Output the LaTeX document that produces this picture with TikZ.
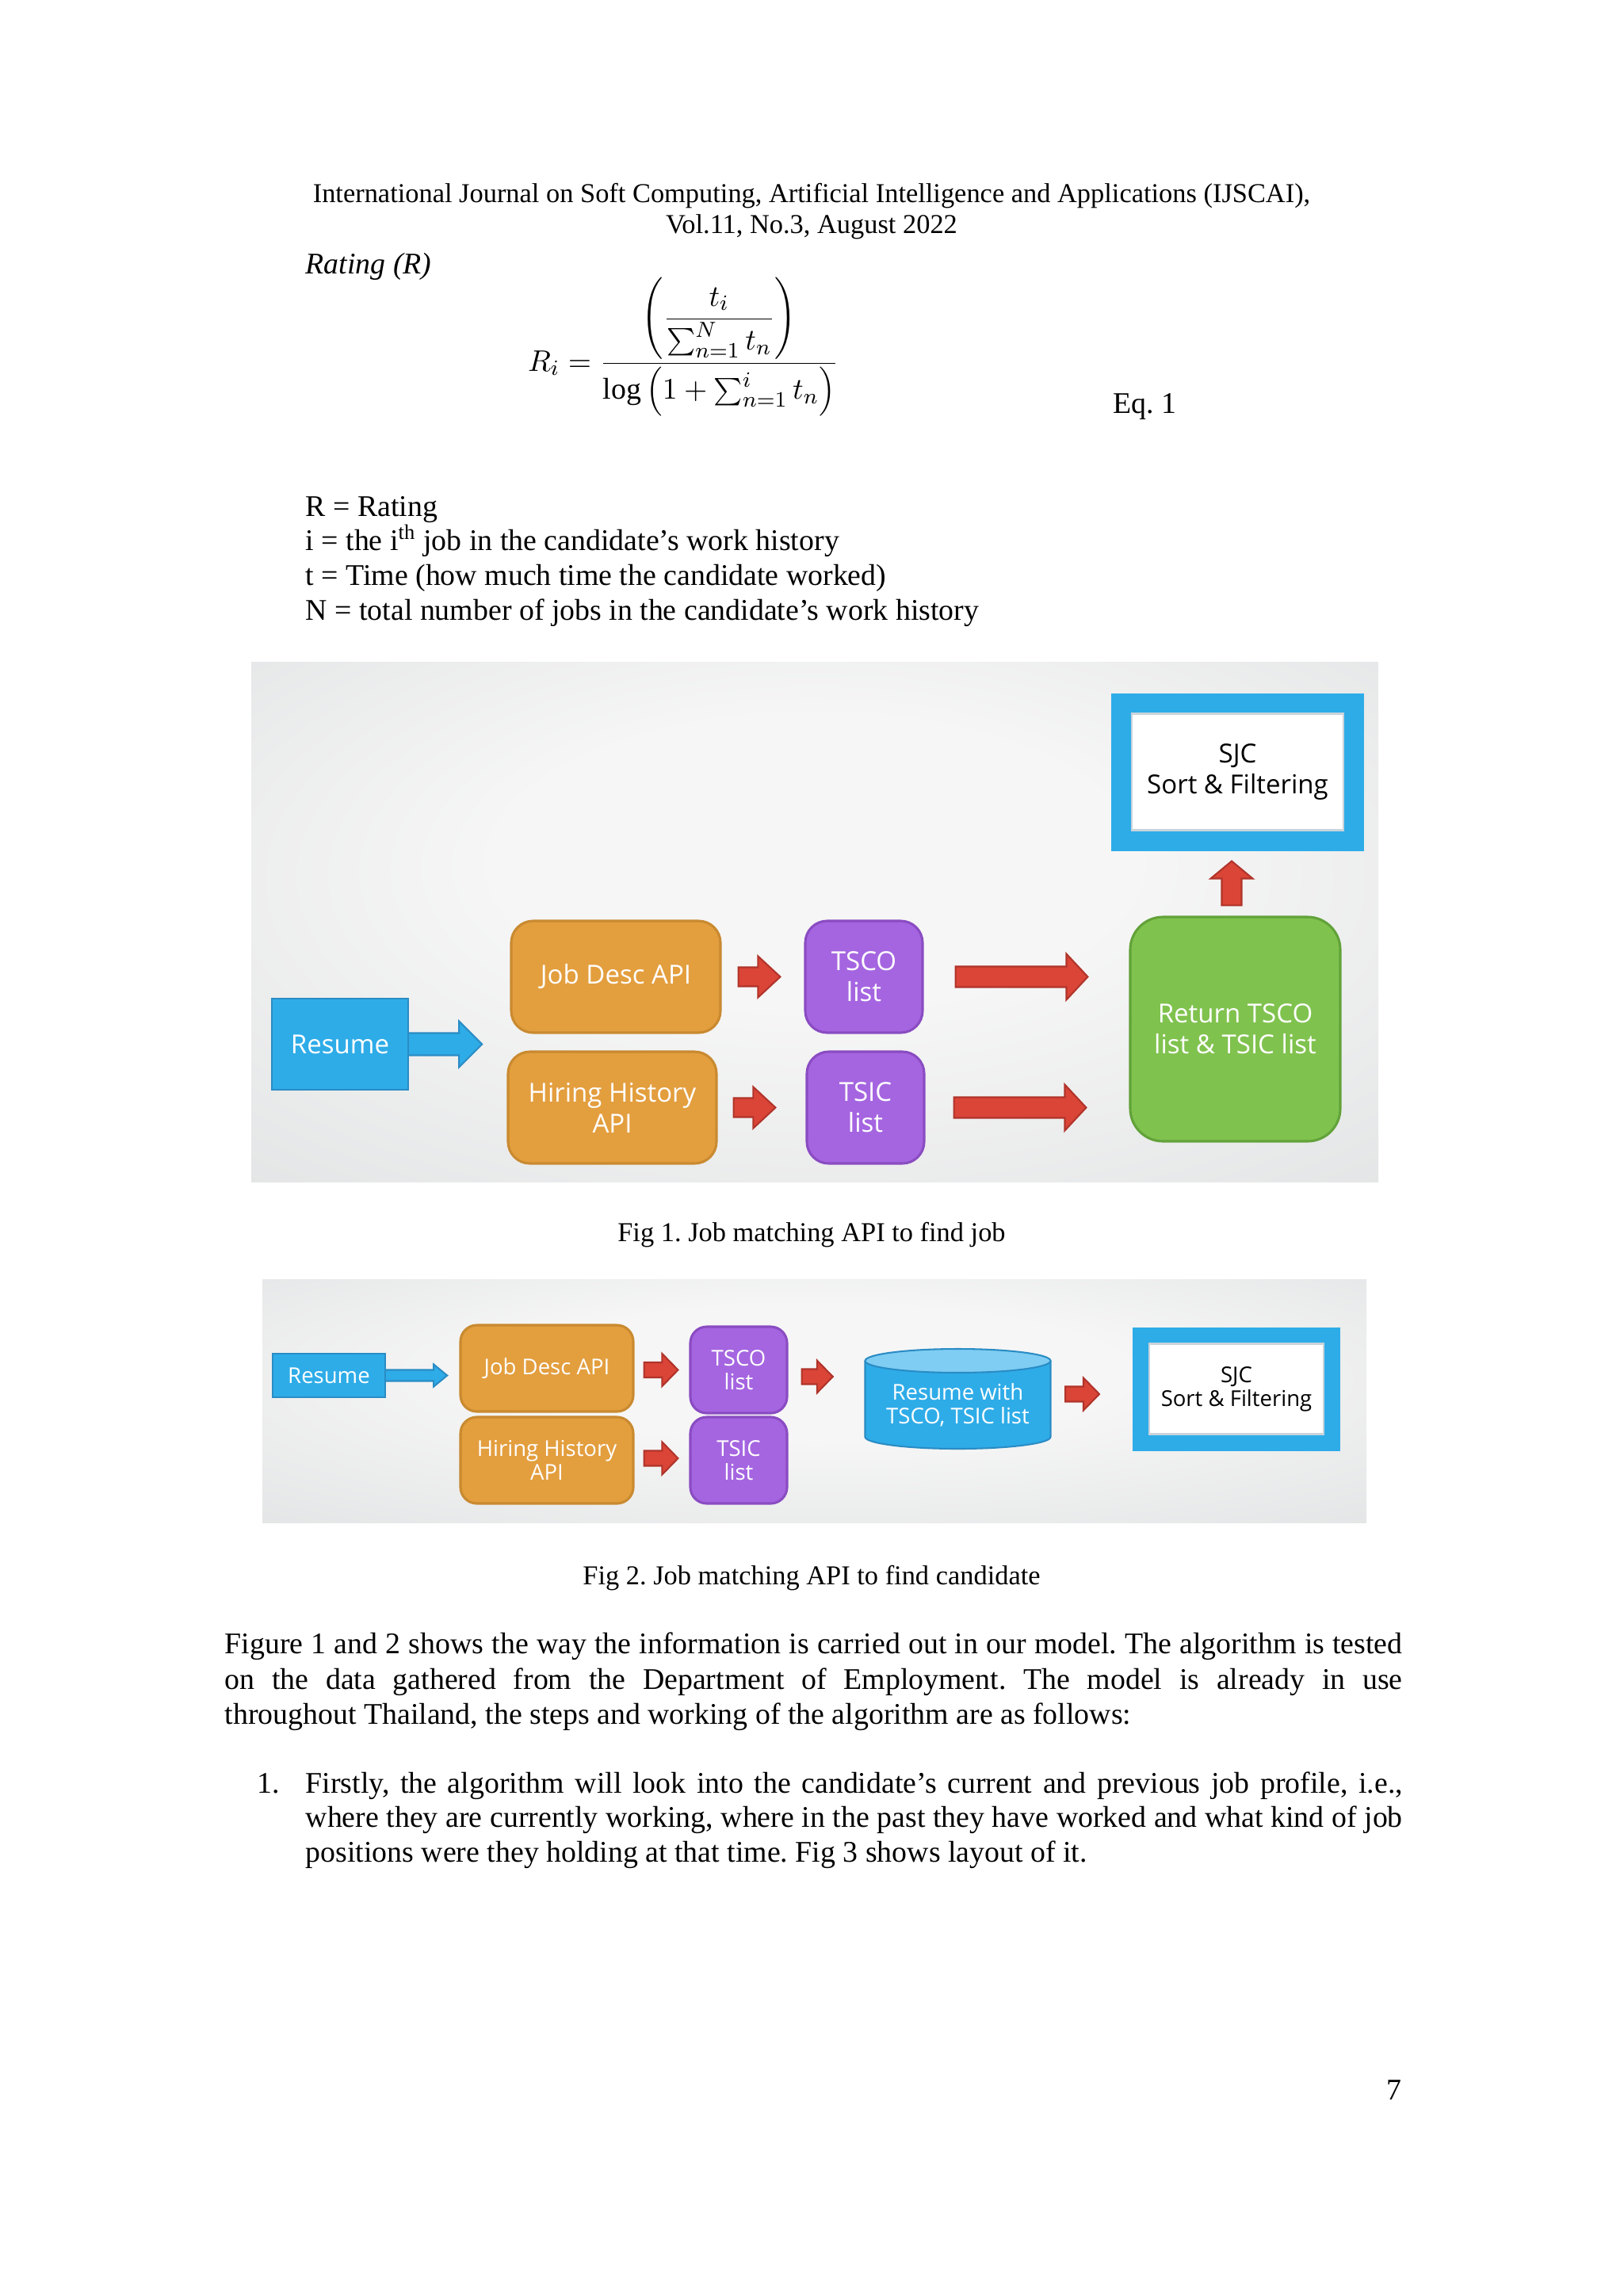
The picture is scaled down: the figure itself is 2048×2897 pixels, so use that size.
\documentclass[tikz,border=0pt]{standalone}
\usepackage{fontspec}
\setmainfont{Liberation Serif}
\newfontfamily\figfont{Open Sans}
\usetikzlibrary{calc}
\definecolor{bgin}{HTML}{F6F6F6}
\definecolor{bgout}{HTML}{DADCDD}
\definecolor{bluF}{HTML}{2EACE8}
\definecolor{bluD}{HTML}{2A8CC4}
\definecolor{oraF}{HTML}{E39E3E}
\definecolor{oraD}{HTML}{C98A30}
\definecolor{purF}{HTML}{A565E0}
\definecolor{purD}{HTML}{8A4CC2}
\definecolor{grnF}{HTML}{80C24E}
\definecolor{grnD}{HTML}{62A23A}
\definecolor{redF}{HTML}{DA4537}
\definecolor{redD}{HTML}{B0342A}
\definecolor{cylTop}{HTML}{7FCDF3}
\definecolor{sjcIn}{HTML}{C9D3DB}
\pgfdeclareradialshading{bgshade}{\pgfpoint{0bp}{8bp}}{color(0bp)=(bgin); color(14bp)=(bgin); color(50bp)=(bgout)}
\pgfdeclarelayer{bglayer}
\pgfdeclarelayer{behind}
\pgfsetlayers{bglayer,behind,main}
\newcommand\pxu{0.29066pt}
\newcommand\hblock[6]{%
 \path[#1] ($#2+(0,-#4)$) -- ($#3+(-#6,-#4)$) -- ($#3+(-#6,-#5)$) -- #3 -- ($#3+(-#6,#5)$) -- ($#3+(-#6,#4)$) -- ($#2+(0,#4)$) -- cycle;}
\newcommand\vblock[6]{%
 \path[#1] ($#2+(-#4,0)$) -- ($#3+(-#4,#6)$) -- ($#3+(-#5,#6)$) -- #3 -- ($#3+(#5,#6)$) -- ($#3+(#4,#6)$) -- ($#2+(#4,0)$) -- cycle;}
\tikzset{
 figbase/.style={inner sep=0pt, align=center, text=white, font=\figfont\fontsize{9.6}{11.3}\selectfont},
 smallfig/.style={font=\figfont\fontsize{8}{8.7}\selectfont},
 bluebox/.style={figbase, fill=bluF, draw=bluD, line width=0.7pt},
 orabox/.style={figbase, fill=oraF, draw=oraD, line width=0.9pt, rounded corners=8pt},
 purbox/.style={figbase, fill=purF, draw=purD, line width=0.9pt, rounded corners=8pt},
 grnbox/.style={figbase, fill=grnF, draw=grnD, line width=0.9pt, rounded corners=12pt},
 sjcbox/.style={figbase, text=black, fill=white, draw=bluF, outer sep=0pt},
 sjcinner/.style={draw=sjcIn, line width=0.8pt},
 redarr/.style={fill=redF, draw=redD, line width=0.6pt},
 bluarr/.style={fill=bluF, draw=bluD, line width=0.6pt},
 txt/.style={inner sep=0pt, font=\frenchspacing\fontsize{11}{12.8}\selectfont},
 captxt/.style={inner sep=0pt, font=\frenchspacing\fontsize{10}{11.5}\selectfont},
 hdr/.style={inner sep=0pt, font=\fontsize{10}{11.3}\selectfont},
}
\begin{document}
\begin{tikzpicture}[x=0.29066pt,y=-0.29066pt]
\useasboundingbox (0,0) rectangle (2048,2897);
\begin{pgfonlayer}{bglayer}
\fill[white] (0,0) rectangle (2048,2897);
\shade[shading=bgshade] (317,835) rectangle (1739,1491);
\shade[shading=bgshade] (331,1614) rectangle (1724,1921);
\end{pgfonlayer}

% header
\node[hdr, anchor=base] (h1) at (1024,255) {International Journal on Soft Computing, Artificial Intelligence and Applications (IJSCAI),};
\node[hdr, anchor=base] (h2) at (1024,294) {Vol.11, No.3, August 2022};
\node[txt, anchor=base west] (rt) at (385,345) {\itshape Rating (R)};

% equation
\node[inner sep=0pt] (eq) at (862,438) {\fontsize{11}{13}\selectfont$\displaystyle R_i=\frac{\left({\displaystyle\frac{t_i}{\sum\nolimits_{n=1}^{N}t_n}}\right)}{\log\left(1+\sum\nolimits_{n=1}^{i}t_n\right)}$};
\node[txt, anchor=base west] (eqn) at (1404,521) {Eq. 1};

% definitions
\node[txt, anchor=base west] (d1) at (385,651) {R = Rating};
\node[txt, anchor=base west] (d2) at (385,694) {i = the i\textsuperscript{th} job in the candidate’s work history};
\node[txt, anchor=base west] (d3) at (385,738) {t = Time (how much time the candidate worked)};
\node[txt, anchor=base west] (d4) at (385,782) {N = total number of jobs in the candidate’s work history};

% ---------------- Figure 1 ----------------
\node[bluebox, minimum width=172*\pxu, minimum height=115*\pxu] (res1) at (429,1317.5) {Resume};
\node[orabox, minimum width=264*\pxu, minimum height=141*\pxu] (jd1) at (777,1232.5) {Job Desc API};
\node[orabox, minimum width=263*\pxu, minimum height=141*\pxu] (hh1) at (772.5,1397.5) {Hiring History\\API};
\node[purbox, minimum width=148*\pxu, minimum height=141*\pxu] (tsco1) at (1090,1232.5) {TSCO\\list};
\node[purbox, minimum width=148*\pxu, minimum height=141*\pxu] (tsic1) at (1092,1397.5) {TSIC\\list};
\node[grnbox, minimum width=265*\pxu, minimum height=283*\pxu] (grn1) at (1558.5,1298.5) {Return TSCO\\list \& TSIC list};
\node[sjcbox, line width=26*\pxu, minimum width=293*\pxu, minimum height=173*\pxu] (sjc1) at (1561.5,974) {SJC\\Sort \& Filtering};
\draw[sjcinner] ($(sjc1.north west)+(13,13)$) rectangle ($(sjc1.south east)+(-13,-13)$);

\coordinate (b1s) at ($(res1.east)+(-10,0)$);
\coordinate (b1e) at ($(res1.east)+(92,0)$);
\begin{pgfonlayer}{behind}
\hblock{bluarr}{(b1s)}{(b1e)}{14}{29}{29}
\end{pgfonlayer}

\coordinate (r1s) at ($(jd1.east)+(21,0)$);
\coordinate (r1e) at ($(jd1.east -| tsco1.west)+(-30,0)$);
\hblock{redarr}{(r1s)}{(r1e)}{12}{26}{28}
\coordinate (r2s) at ($(hh1.east)+(20,0)$);
\coordinate (r2e) at ($(hh1.east -| tsic1.west)+(-38,0)$);
\hblock{redarr}{(r2s)}{(r2e)}{12}{26}{28}
\coordinate (r3s) at ($(tsco1.east)+(40,0)$);
\coordinate (r3e) at ($(tsco1.east -| grn1.west)+(-52,0)$);
\hblock{redarr}{(r3s)}{(r3e)}{13}{29}{27}
\coordinate (r4s) at ($(tsic1.east)+(36,0)$);
\coordinate (r4e) at ($(tsic1.east -| grn1.west)+(-54,0)$);
\hblock{redarr}{(r4s)}{(r4e)}{13}{29}{27}
\coordinate (u1s) at ($(grn1.north)+(-4.5,-13)$);
\coordinate (u1e) at ($(sjc1.south)+(-7.5,26)$);
\vblock{redarr}{(u1s)}{(u1e)}{12.5}{26.5}{22}

\node[captxt, anchor=base] (cap1) at (1024,1566) {Fig 1. Job matching API to find job};

% ---------------- Figure 2 ----------------
\node[bluebox, smallfig, minimum width=142*\pxu, minimum height=55*\pxu] (res2) at (415,1735.5) {Resume};
\node[orabox, smallfig, rounded corners=6pt, minimum width=218*\pxu, minimum height=109*\pxu] (jd2) at (690,1726.5) {Job Desc API};
\node[orabox, smallfig, rounded corners=6pt, minimum width=218*\pxu, minimum height=109*\pxu] (hh2) at (690,1842.5) {Hiring History\\API};
\node[purbox, smallfig, rounded corners=6pt, minimum width=122*\pxu, minimum height=109*\pxu] (tsco2) at (932,1728.5) {TSCO\\list};
\node[purbox, smallfig, rounded corners=6pt, minimum width=122*\pxu, minimum height=109*\pxu] (tsic2) at (932,1842.5) {TSIC\\list};
% cylinder
\fill[bluF] (1091.5,1717) -- (1091.5,1813) arc[start angle=180, end angle=0, x radius=117, y radius=15] -- (1325.5,1717) -- cycle;
\draw[bluD, line width=0.6pt] (1091.5,1717) -- (1091.5,1813) arc[start angle=180, end angle=0, x radius=117, y radius=15] -- (1325.5,1717);
\draw[fill=cylTop, draw=bluD, line width=0.6pt] (1208.5,1717) ellipse [x radius=117, y radius=15];
\node[figbase, smallfig, minimum width=234*\pxu, minimum height=60*\pxu] (cyl) at (1208.5,1773) {Resume with\\TSCO, TSIC list};
\node[sjcbox, smallfig, text=black, line width=21*\pxu, minimum width=241*\pxu, minimum height=135*\pxu] (sjc2) at (1560,1752.5) {SJC\\Sort \& Filtering};
\draw[sjcinner] ($(sjc2.north west)+(10.5,10.5)$) rectangle ($(sjc2.south east)+(-10.5,-10.5)$);

\coordinate (b2s) at ($(res2.east)+(-8,0)$);
\coordinate (b2e) at ($(res2.east)+(77,0)$);
\begin{pgfonlayer}{behind}
\hblock{bluarr}{(b2s)}{(b2e)}{7}{14}{17}
\end{pgfonlayer}
\coordinate (s1) at ($(jd2.east |- tsco2.west)+(12,0)$);
\coordinate (e1) at ($(tsco2.west)+(-14,0)$);
\hblock{redarr}{(s1)}{(e1)}{9.5}{20.5}{20}
\coordinate (s2) at ($(hh2.east)+(12,-2.5)$);
\coordinate (e2) at ($(tsic2.west)+(-14,-2.5)$);
\hblock{redarr}{(s2)}{(e2)}{9.5}{20.5}{20}
\coordinate (s3) at ($(tsco2.east)+(17,8.5)$);
\coordinate (e3) at ($(tsco2.east -| cyl.west)+(-40,8.5)$);
\hblock{redarr}{(s3)}{(e3)}{9.5}{20.5}{20}
\coordinate (s4) at ($(cyl.east)+(18,-14)$);
\coordinate (e4) at ($(sjc2.west)+(-52.5,6.5)$);
\hblock{redarr}{(s4)}{(e4)}{9.5}{20.5}{20}

\node[captxt, anchor=base] (cap2) at (1024,1999) {Fig 2. Job matching API to find candidate};

% ---------------- Body text ----------------
\node[txt, anchor=base west] (p1) at (283,2086) {\hbox to 431.9pt{Figure 1 and 2 shows the way the information is carried out in our model. The algorithm is tested}};
\node[txt, anchor=base west] (p2) at (283,2131) {\hbox to 431.9pt{on the data gathered from the Department of Employment. The model is already in use}};
\node[txt, anchor=base west] (p3) at (283,2175) {throughout Thailand, the steps and working of the algorithm are as follows:};

\node[txt, anchor=base west] (n1) at (324,2262) {1.};
\node[txt, anchor=base west] (i1) at (385,2262) {\hbox to 402.3pt{Firstly, the algorithm will look into the candidate’s current and previous job profile, i.e.,}};
\node[txt, anchor=base west] (i2) at (385,2305) {\hbox to 402.3pt{where they are currently working, where in the past they have worked and what kind of job}};
\node[txt, anchor=base west] (i3) at (385,2349) {positions were they holding at that time. Fig 3 shows layout of it.};

\node[txt, anchor=base east] (pg) at (1769,2649) {7};
\end{tikzpicture}
\end{document}
